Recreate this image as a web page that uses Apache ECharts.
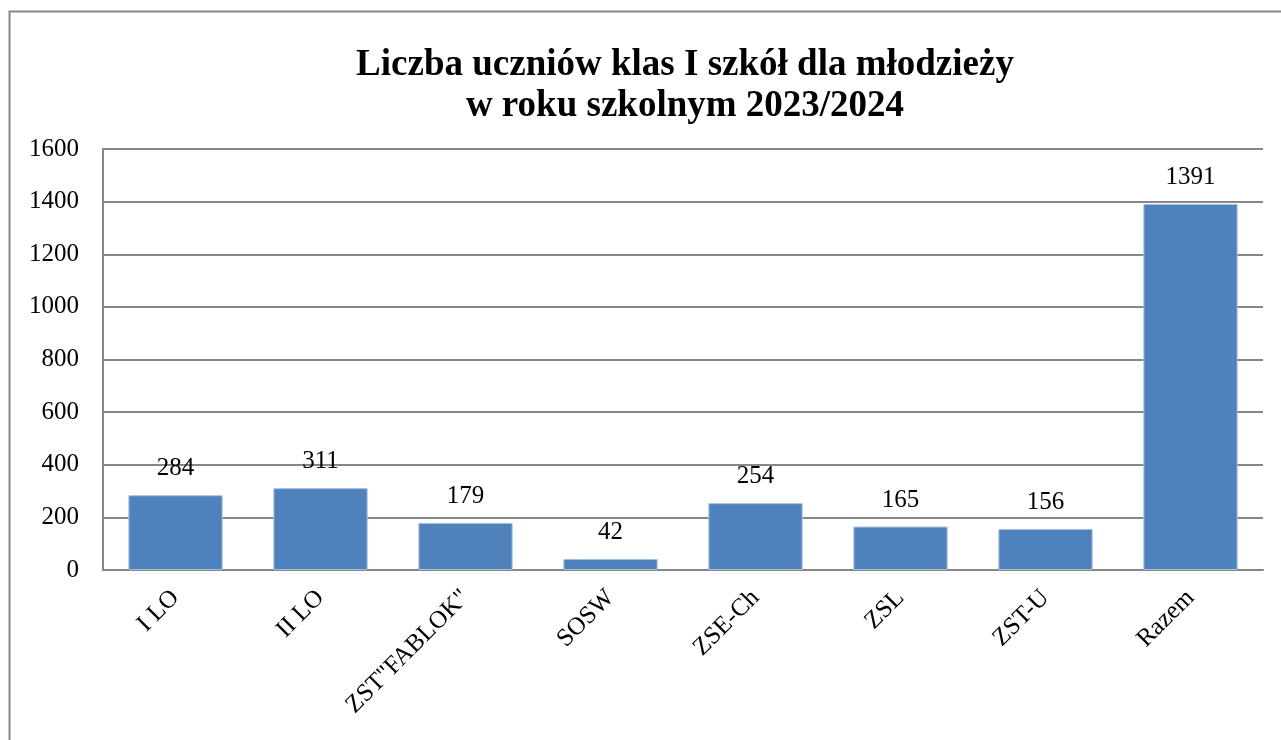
<!DOCTYPE html>
<html>
<head>
<meta charset="utf-8">
<script src="https://cdn.jsdelivr.net/npm/echarts@6/dist/echarts.min.js"></script>
<style>
  html, body { margin: 0; padding: 0; background: #fff; }
  #chart { width: 1281px; height: 740px; }
</style>
</head>
<body>
<div id="chart"></div>
<script>
const schools = ['I LO', 'II LO', 'ZST"FABLOK"', 'SOSW', 'ZSE-Ch', 'ZSL', 'ZST-U', 'Razem']
const pupils = [284, 311, 179, 42, 254, 165, 156, 1391]
const yTicks = [0, 200, 400, 600, 800, 1000, 1200, 1400, 1600]

const font = '"Liberation Serif", "Times New Roman", serif'
const chart = echarts.init(document.getElementById('chart'))

chart.setOption({
  animation: false,
  textStyle: { fontFamily: font },
  title: {
    text: 'Liczba uczniów klas I szkół dla młodzieży\nw roku szkolnym 2023/2024',
    left: 680,
    top: 40,
    textAlign: 'center',
    textStyle: {
      fontFamily: font,
      fontSize: 37,
      fontWeight: 'bold',
      color: '#000',
      lineHeight: 41
    }
  },
  graphic: [{
    type: 'rect',
    shape: { x: 9.5, y: 11.5, width: 1400, height: 900 },
    style: { fill: 'none', stroke: '#878787', lineWidth: 2 },
    silent: true
  }],
  grid: { left: 103, right: 18, top: 149, bottom: 170 },
  xAxis: {
    type: 'category',
    data: schools,
    axisLine: { lineStyle: { color: '#878787', width: 2 } },
    axisTick: { show: false },
    axisLabel: {
      rotate: 45,
      interval: 0,
      margin: 24,
      fontFamily: font,
      fontSize: 25,
      color: '#000'
    }
  },
  yAxis: {
    type: 'value',
    min: yTicks[0],
    max: yTicks[yTicks.length - 1],
    interval: yTicks[1] - yTicks[0],
    axisLine: { show: true, lineStyle: { color: '#878787', width: 2 } },
    axisTick: { show: false },
    splitLine: { lineStyle: { color: '#878787', width: 2 } },
    axisLabel: {
      margin: 24,
      fontFamily: font,
      fontSize: 25,
      color: '#000',
      formatter: v => String(v)
    }
  },
  series: [{
    type: 'bar',
    data: pupils,
    barWidth: '65%',
    itemStyle: { color: '#4F81BD', borderColor: '#A7BFDE', borderWidth: 1 },
    label: {
      show: true,
      position: 'top',
      distance: 14,
      fontFamily: font,
      fontSize: 25,
      color: '#000'
    }
  }]
})
</script>
</body>
</html>
